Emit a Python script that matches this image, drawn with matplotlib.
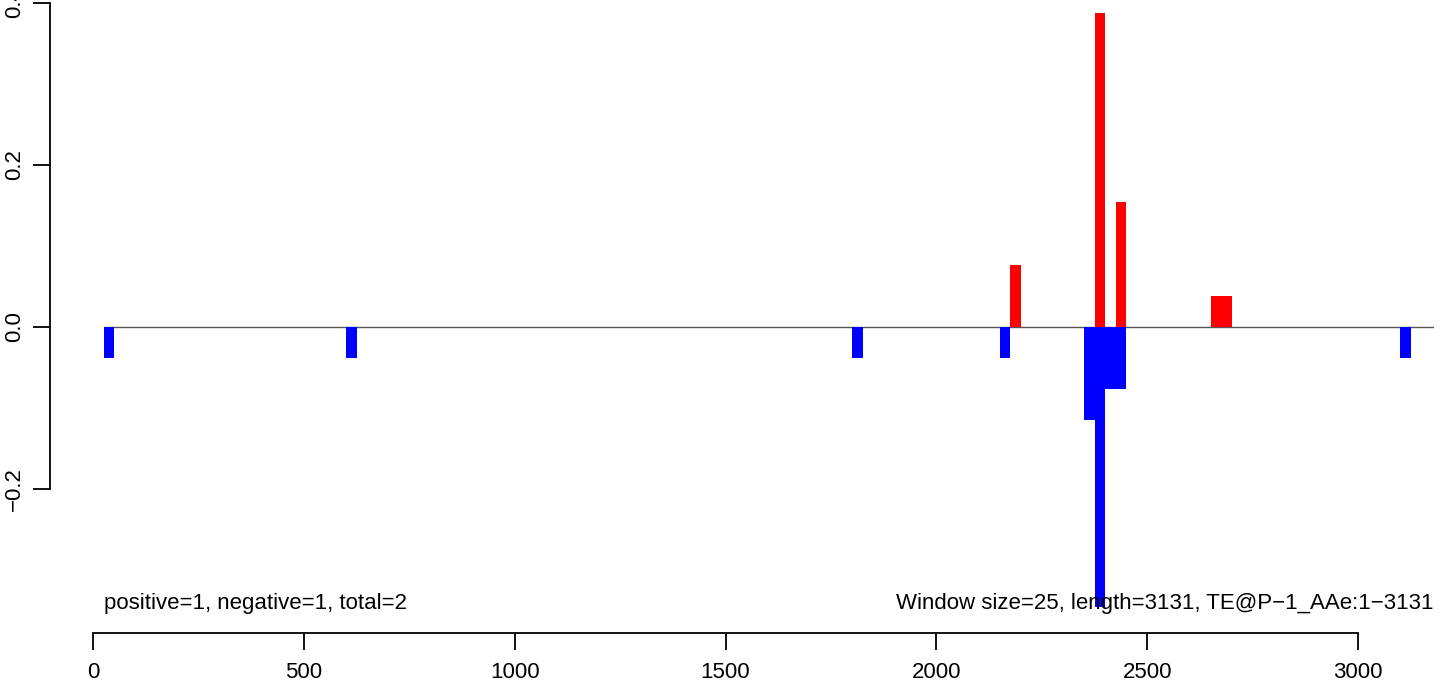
import numpy as np
import matplotlib
matplotlib.use("Agg")
import matplotlib.pyplot as plt

plt.rcParams['font.family'] = ['Liberation Sans', 'DejaVu Sans']

# window start positions (window size = 25) and normalised counts
win = 25
pos_starts = [2175, 2375, 2425, 2650, 2675]
pos_vals = [0.0769, 0.388, 0.154, 0.0385, 0.0385]
neg_starts = [25, 600, 1800, 2150, 2350, 2375, 2400, 2425, 3100]
neg_vals = [-0.0385, -0.0385, -0.0385, -0.0385, -0.115, -0.346, -0.0769, -0.0769, -0.0385]

xticks = [0, 500, 1000, 1500, 2000, 2500, 3000]
yticks = [-0.2, 0.0, 0.2, 0.4]
left_note = "positive=1, negative=1, total=2"
right_note = "Window size=25, length=3131, TE@P\u22121_AAe:1\u22123131"

xlim = (-102, 3180)
ylim = (-0.3778, 0.4037)

fig = plt.figure(figsize=(14.44, 6.82), dpi=100)
ax = fig.add_axes([50 / 1444, 49 / 682, 1384 / 1444, 633 / 682])

ax.hlines(0, neg_starts[0], xlim[1], color='#555555', lw=1.0, zorder=1)
ax.bar(neg_starts, neg_vals, width=win, align='edge', color='#0000ff', lw=0, zorder=2)
ax.bar(pos_starts, pos_vals, width=win, align='edge', color='#ff0000', lw=0, zorder=2)

ax.text(neg_starts[0], -0.341, left_note, ha='left', va='center', fontsize=16, zorder=3)
ax.text(xlim[1], -0.341, right_note, ha='right', va='center', fontsize=16, zorder=3)

ax.set_xlim(*xlim)
ax.set_ylim(*ylim)
for s in ['top', 'right']:
    ax.spines[s].set_visible(False)
ax.spines['left'].set_bounds(yticks[0], yticks[-1])
ax.spines['bottom'].set_bounds(xticks[0], xticks[-1])
ax.spines['left'].set_linewidth(1.3)
ax.spines['bottom'].set_linewidth(1.3)

ax.set_xticks(xticks)
ax.set_xticklabels([str(t) for t in xticks])
ax.set_yticks(yticks)
ax.set_yticklabels([f"{t:.1f}".replace('-', '\u2212') for t in yticks], rotation=90, va='center')
ax.tick_params(axis='both', length=12, width=1.3, labelsize=16, pad=9)
ax.tick_params(axis='y', pad=6)

fig.savefig("out.png", dpi=100)
